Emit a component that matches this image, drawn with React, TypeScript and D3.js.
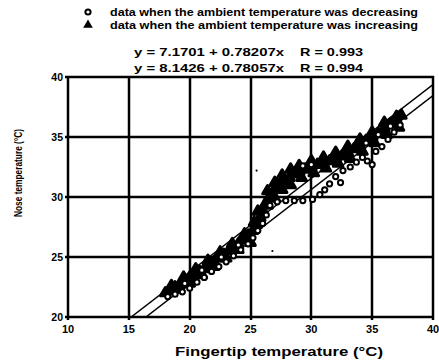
import React, { useEffect } from 'react';
import * as d3 from 'd3';

// tick values
const xTicks = [10, 15, 20, 25, 30, 35, 40];
const yTicks = [20, 25, 30, 35, 40];

// ambient temperature increasing (filled triangles) - [fingertip, nose]
const increasing: [number, number][] = [
  [18.0, 22.0], [18.4, 22.2], [18.8, 22.5], [19.2, 22.7], [19.6, 23.0], [20.0, 23.3],
  [20.4, 23.5], [20.8, 23.8], [21.2, 24.0], [21.6, 24.3], [22.0, 24.6], [22.4, 24.9],
  [22.8, 25.2], [23.2, 25.5], [23.6, 25.8], [24.0, 26.1], [24.4, 26.4], [24.8, 26.8],
  [25.2, 27.2], [25.5, 27.7], [25.8, 28.3], [26.0, 28.9], [26.2, 29.4], [26.5, 29.9],
  [26.8, 30.3], [27.1, 30.7], [27.4, 31.0], [27.8, 31.3], [28.2, 31.6], [28.6, 31.9],
  [29.0, 32.1], [29.5, 32.3], [30.0, 32.5], [30.5, 32.7], [31.0, 32.8], [31.5, 33.0],
  [32.0, 33.2], [32.5, 33.4], [33.0, 33.7], [33.5, 34.0], [34.0, 34.3], [34.5, 34.7],
  [35.0, 35.0], [35.5, 35.3], [36.0, 35.7], [36.5, 36.1], [37.0, 36.4], [37.4, 36.8],
  [26.4, 30.5], [27.0, 31.2], [27.6, 31.8], [28.3, 32.3], [29.0, 32.6], [30.0, 33.0],
  [31.0, 33.3], [32.0, 33.7], [33.0, 34.2], [34.0, 34.8], [35.0, 35.4], [36.0, 36.2],
  [37.0, 36.7], [26.4, 29.3], [27.0, 29.9], [27.6, 30.6], [28.3, 31.0], [29.2, 31.6],
  [30.2, 32.0], [31.2, 32.4], [32.2, 32.8], [33.2, 33.2], [34.2, 33.8], [35.2, 34.5],
  [36.2, 35.2], [37.2, 35.8], [19.0, 22.3], [20.0, 22.8], [21.0, 23.5], [22.0, 24.2],
  [23.0, 24.9], [24.0, 25.6], [25.0, 26.2], [18.5, 22.6], [19.5, 23.3], [20.5, 24.0],
  [21.5, 24.7], [22.5, 25.4], [23.5, 26.1], [24.5, 26.9], [25.3, 27.9], [25.6, 28.8],
];

// ambient temperature decreasing (open circles)
const decreasing: [number, number][] = [
  [18.2, 21.7], [18.8, 21.9], [19.4, 22.1], [20.0, 22.4], [20.6, 22.9], [21.2, 23.3],
  [21.8, 23.8], [22.4, 24.2], [23.0, 24.6], [23.6, 25.1], [24.2, 25.6], [24.8, 26.1],
  [25.2, 26.6], [25.6, 27.2], [26.0, 27.8], [26.3, 28.5], [26.6, 29.3],
  [27.2, 29.6], [27.9, 29.7], [28.6, 29.7], [29.3, 29.7], [30.1, 29.8], [30.7, 30.2],
  [31.1, 30.6], [31.5, 31.1], [32.0, 31.7], [32.4, 31.2], [32.6, 32.2], [33.2, 32.5],
  [33.7, 32.9], [34.2, 33.3], [34.6, 33.0], [35.0, 32.7], [35.3, 33.8], [35.8, 34.2],
  [36.3, 34.8], [36.8, 35.4], [37.3, 36.0],
  [29.3, 32.6], [30.0, 32.7], [34.5, 34.5], [35.5, 35.2], [36.5, 35.9],
  [19.6, 22.8], [21.0, 23.9], [22.6, 25.0], [24.0, 26.0],
];

// stray specks on the scan
const specks: [number, number][] = [[25.5, 32.2], [26.8, 25.5]];

// regression lines: intercept, slope
const fits = [
  { a: 7.1701, b: 0.78207, label: 'y = 7.1701 + 0.78207x', r: 'R = 0.993' },
  { a: 8.1426, b: 0.78057, label: 'y = 8.1426 + 0.78057x', r: 'R = 0.994' },
];

const W = 439;
const H = 362;
const font = '"Liberation Sans", Arial, Helvetica, sans-serif';

export default function App() {
  useEffect(() => {
    document.body.style.margin = '0';
  }, []);

  const x = d3.scaleLinear().domain([10, 40]).range([68, 433]);
  const y = d3.scaleLinear().domain([20, 40]).range([317, 77]);

  const tri = d3.symbol().type(d3.symbolTriangle).size(40)();
  const line = d3.line<[number, number]>().x(d => x(d[0])).y(d => y(d[1]));

  return (
    <svg width={W} height={H} style={{ display: 'block', background: '#fff' }} fontFamily={font}>
      {/* legend */}
      <circle cx={88} cy={12} r={2.6} fill="#fff" stroke="#000" strokeWidth={2} />
      <text x={110} y={16} fontSize={10} fontWeight="bold" textLength={308} lengthAdjust="spacingAndGlyphs">
        data when the ambient temperature was decreasing
      </text>
      <path d={tri} transform="translate(88,25)" fill="#000" />
      <text x={110} y={29} fontSize={10} fontWeight="bold" textLength={308} lengthAdjust="spacingAndGlyphs">
        data when the ambient temperature was increasing
      </text>

      {/* equations */}
      {fits.map((f, i) => (
        <g key={i} fontSize={11} fontWeight="bold">
          <text x={134} y={56 + i * 16} textLength={150} lengthAdjust="spacingAndGlyphs">{f.label}</text>
          <text x={300} y={56 + i * 16} textLength={63} lengthAdjust="spacingAndGlyphs">{f.r}</text>
        </g>
      ))}

      {/* grid */}
      {xTicks.map(t => (
        <g key={'x' + t}>
          <line x1={Math.round(x(t))} x2={Math.round(x(t))} y1={y(40) - 1} y2={y(20) + 3} stroke="#000" strokeWidth={2.5} />
          <text x={x(t)} y={333} fontSize={11} fontWeight="bold" textAnchor="middle">{t}</text>
        </g>
      ))}
      {yTicks.map(t => (
        <g key={'y' + t}>
          <line x1={x(10) - 3} x2={x(40) + 1} y1={Math.round(y(t))} y2={Math.round(y(t))} stroke="#000" strokeWidth={2.5} />
          <text x={63} y={y(t) + 4} fontSize={10.5} fontWeight="bold" textAnchor="end">{t}</text>
        </g>
      ))}

      <clipPath id="plot">
        <rect x={x(10)} y={y(40)} width={x(40) - x(10)} height={y(20) - y(40)} />
      </clipPath>

      {/* regression lines */}
      <g clipPath="url(#plot)">
        {fits.map((f, i) => {
          const x0 = (20 - f.a) / f.b;
          return (
            <path key={i} d={line([[x0, 20], [40, f.a + f.b * 40]]) || ''} stroke="#000" strokeWidth={1.5} fill="none" />
          );
        })}
      </g>

      {/* data */}
      {increasing.map((d, i) => (
        <path key={'t' + i} d={tri} transform={`translate(${x(d[0])},${y(d[1])})`} fill="#000" stroke="#000" strokeWidth={3} strokeLinejoin="round" />
      ))}
      {decreasing.map((d, i) => (
        <circle key={'c' + i} cx={x(d[0])} cy={y(d[1])} r={2.6} fill="#fff" stroke="#000" strokeWidth={2} />
      ))}
      {specks.map((d, i) => (
        <circle key={'s' + i} cx={x(d[0])} cy={y(d[1])} r={1.1} fill="#000" />
      ))}

      {/* axis titles */}
      <text x={279} y={356} fontSize={13} fontWeight="bold" textAnchor="middle" textLength={208} lengthAdjust="spacingAndGlyphs">
        Fingertip temperature  (°C)
      </text>
      <text transform="translate(22,173) rotate(-90)" fontSize={11.5} fontWeight="bold" textAnchor="middle" textLength={88} lengthAdjust="spacingAndGlyphs">
        Nose temperature (°C)
      </text>
    </svg>
  );
}
